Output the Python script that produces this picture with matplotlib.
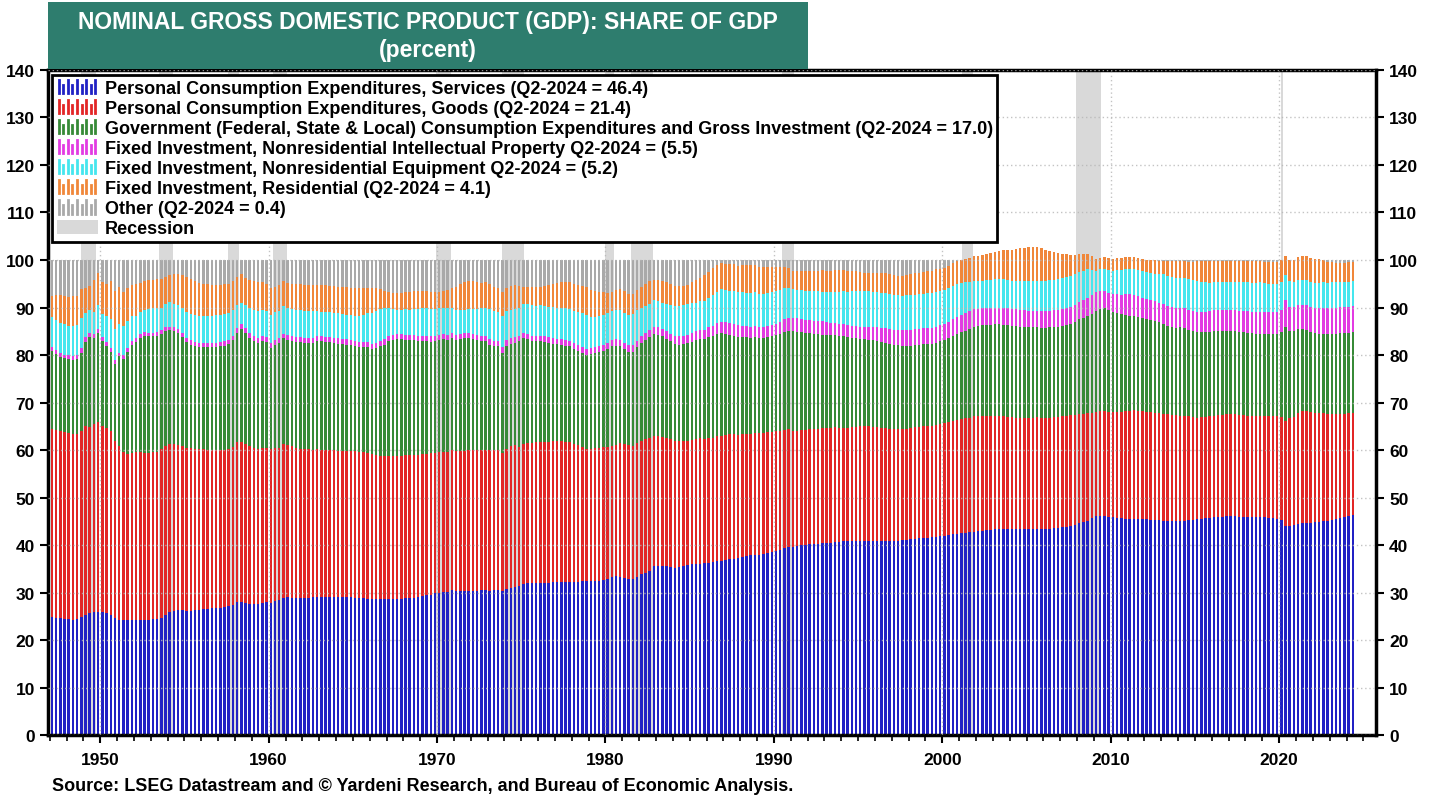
import numpy as np
import pandas as pd
import matplotlib
matplotlib.use("Agg")
import matplotlib.pyplot as plt
from matplotlib import font_manager
from matplotlib.patches import Patch, Rectangle
from matplotlib.lines import Line2D
from matplotlib.legend_handler import HandlerBase
from matplotlib.ticker import MultipleLocator

plt.rcParams["font.family"] = ["Liberation Sans", "DejaVu Sans"]
plt.rcParams["font.weight"] = "bold"

# quarterly shares of nominal GDP (percent), 1947Q1 .. 2024Q2
quarters = pd.period_range("1947Q1", "2024Q2", freq="Q")

services = [
    24.8, 24.7, 24.6, 24.5, 24.4, 24.3, 24.4, 24.8,
    25.3, 25.7, 25.8, 26.0, 25.9, 25.6, 25.2, 24.6,
    24.3, 24.2, 24.2, 24.2, 24.2, 24.3, 24.3, 24.3,
    24.4, 24.5, 24.7, 25.3, 25.8, 26.2, 26.4, 26.3,
    26.2, 26.2, 26.3, 26.4, 26.5, 26.6, 26.7, 26.7,
    26.8, 27.0, 27.1, 27.4, 27.9, 28.0, 27.8, 27.6,
    27.6, 27.5, 27.8, 27.9, 27.8, 28.2, 28.4, 28.8,
    29.0, 28.9, 28.9, 28.8, 28.8, 28.9, 29.0, 29.1,
    29.1, 29.1, 29.1, 29.1, 29.1, 29.1, 29.0, 29.0,
    28.9, 28.8, 28.8, 28.7, 28.6, 28.6, 28.6, 28.6,
    28.6, 28.6, 28.6, 28.7, 28.8, 28.8, 28.9, 29.0,
    29.2, 29.4, 29.5, 29.8, 30.0, 30.1, 30.2, 30.5,
    30.3, 30.3, 30.3, 30.4, 30.4, 30.4, 30.5, 30.5,
    30.4, 30.5, 30.6, 30.3, 30.8, 31.0, 31.2, 31.3,
    31.8, 32.0, 32.0, 32.0, 32.0, 32.0, 32.1, 32.2,
    32.2, 32.2, 32.2, 32.2, 32.2, 32.3, 32.4, 32.5,
    32.5, 32.5, 32.5, 32.6, 32.8, 33.3, 33.4, 33.2,
    33.0, 32.9, 32.8, 33.2, 33.8, 34.2, 34.5, 35.5,
    35.5, 35.5, 35.5, 35.4, 35.2, 35.3, 35.5, 35.7,
    35.9, 36.0, 36.1, 36.2, 36.3, 36.4, 36.6, 36.7,
    36.8, 37.0, 37.1, 37.2, 37.4, 37.6, 37.8, 37.9,
    38.0, 38.1, 38.3, 38.6, 38.8, 39.0, 39.3, 39.5,
    39.6, 39.8, 40.0, 40.1, 40.2, 40.2, 40.3, 40.4,
    40.5, 40.5, 40.6, 40.7, 40.8, 40.9, 40.9, 40.9,
    40.9, 40.9, 40.9, 40.9, 40.9, 40.9, 40.9, 40.9,
    40.9, 40.9, 41.0, 41.1, 41.2, 41.3, 41.4, 41.5,
    41.5, 41.6, 41.7, 41.8, 41.9, 42.1, 42.3, 42.4,
    42.5, 42.6, 42.7, 42.8, 42.9, 43.0, 43.1, 43.2,
    43.3, 43.3, 43.3, 43.3, 43.3, 43.3, 43.3, 43.3,
    43.3, 43.3, 43.3, 43.3, 43.3, 43.4, 43.5, 43.6,
    43.7, 43.8, 44.0, 44.3, 44.6, 44.8, 45.1, 45.6,
    46.1, 46.2, 46.1, 46.0, 45.8, 45.7, 45.6, 45.5,
    45.4, 45.4, 45.4, 45.4, 45.4, 45.3, 45.3, 45.2,
    45.1, 45.1, 45.1, 45.1, 45.1, 45.1, 45.2, 45.3,
    45.4, 45.5, 45.6, 45.7, 45.8, 45.9, 46.0, 46.1,
    46.1, 46.1, 46.0, 45.9, 45.8, 45.8, 45.8, 45.8,
    45.8, 45.7, 45.6, 45.5, 45.2, 44.0, 44.0, 44.2,
    44.4, 44.6, 44.7, 44.7, 44.8, 44.9, 45.0, 45.1,
    45.3, 45.5, 45.7, 45.9, 46.2, 46.4,
]

goods = [
    39.6, 39.5, 39.4, 39.3, 39.2, 39.1, 38.9, 39.2,
    39.7, 39.1, 39.6, 40.0, 39.2, 39.1, 38.8, 37.3,
    36.6, 35.3, 34.9, 35.1, 35.3, 35.2, 35.0, 35.1,
    35.1, 35.1, 35.5, 35.5, 35.4, 35.0, 34.6, 34.5,
    34.3, 34.2, 34.0, 33.8, 33.7, 33.5, 33.3, 33.3,
    33.2, 33.1, 33.2, 33.3, 33.7, 33.7, 33.5, 33.3,
    32.8, 32.7, 32.7, 32.6, 32.4, 32.3, 32.1, 32.4,
    32.0, 31.9, 31.6, 31.5, 31.4, 31.3, 31.1, 31.1,
    30.9, 30.9, 30.8, 30.8, 30.7, 30.7, 30.8, 30.8,
    30.8, 30.8, 30.7, 30.6, 30.5, 30.4, 30.2, 30.2,
    30.2, 30.2, 30.2, 30.1, 30.2, 30.2, 30.1, 30.0,
    29.9, 29.8, 29.8, 29.6, 29.5, 29.5, 29.4, 29.5,
    29.5, 29.5, 29.4, 29.5, 29.6, 29.6, 29.6, 29.6,
    29.6, 29.4, 29.3, 29.1, 29.5, 29.8, 29.9, 29.4,
    29.4, 29.5, 29.5, 29.6, 29.6, 29.6, 29.6, 29.6,
    29.7, 29.6, 29.5, 29.4, 29.1, 28.7, 28.2, 27.7,
    27.7, 27.9, 28.0, 28.0, 27.9, 27.6, 27.7, 28.3,
    28.2, 28.1, 28.1, 28.2, 28.2, 28.1, 28.1, 27.5,
    27.4, 27.3, 27.1, 26.9, 26.8, 26.5, 26.3, 26.3,
    26.3, 26.3, 26.4, 26.2, 26.2, 26.2, 26.3, 26.3,
    26.4, 26.3, 26.3, 26.0, 26.0, 25.8, 25.6, 25.7,
    25.5, 25.5, 25.4, 25.2, 25.1, 25.0, 25.0, 24.9,
    24.5, 24.3, 24.2, 24.1, 24.2, 24.2, 24.2, 24.2,
    24.2, 24.2, 24.2, 24.0, 23.9, 23.8, 23.9, 24.0,
    24.1, 24.2, 24.1, 24.0, 23.9, 23.8, 23.7, 23.6,
    23.5, 23.5, 23.4, 23.4, 23.4, 23.5, 23.5, 23.5,
    23.6, 23.5, 23.5, 23.7, 23.8, 23.8, 23.9, 24.0,
    24.1, 24.2, 24.1, 24.3, 24.2, 24.2, 24.1, 24.0,
    23.9, 23.9, 23.8, 23.7, 23.6, 23.5, 23.5, 23.5,
    23.5, 23.5, 23.6, 23.5, 23.5, 23.4, 23.4, 23.4,
    23.4, 23.4, 23.3, 23.1, 23.0, 22.8, 22.6, 22.2,
    21.8, 22.0, 22.2, 22.1, 22.1, 22.2, 22.4, 22.7,
    22.9, 23.0, 22.9, 22.8, 22.6, 22.6, 22.5, 22.5,
    22.5, 22.4, 22.3, 22.2, 22.1, 22.1, 21.9, 21.7,
    21.4, 21.4, 21.4, 21.4, 21.4, 21.4, 21.4, 21.4,
    21.5, 21.4, 21.4, 21.4, 21.4, 21.4, 21.4, 21.4,
    21.3, 21.5, 21.5, 21.6, 21.8, 22.1, 22.8, 22.8,
    23.4, 23.7, 23.5, 23.2, 23.0, 22.9, 22.7, 22.5,
    22.3, 22.1, 21.9, 21.7, 21.5, 21.4,
]

government = [
    16.4, 16.0, 15.6, 15.5, 15.5, 15.6, 15.9, 16.5,
    17.8, 18.9, 18.1, 18.6, 17.8, 17.1, 16.6, 16.3,
    18.8, 19.7, 21.6, 22.9, 23.2, 24.1, 24.7, 24.5,
    24.4, 24.5, 24.2, 24.2, 24.0, 23.8, 23.7, 23.0,
    22.2, 21.8, 21.6, 21.5, 21.4, 21.5, 21.6, 21.7,
    21.8, 21.9, 22.0, 22.5, 23.0, 23.8, 23.3, 22.7,
    22.6, 22.4, 22.4, 22.2, 21.3, 21.7, 22.0, 22.3,
    22.2, 22.2, 22.3, 22.4, 22.3, 22.3, 22.4, 22.7,
    23.0, 22.8, 22.8, 22.7, 22.6, 22.5, 22.4, 22.3,
    22.2, 22.1, 22.1, 22.3, 22.1, 22.4, 23.0, 23.4,
    24.1, 24.4, 24.5, 24.5, 24.2, 24.1, 24.2, 24.0,
    23.8, 23.7, 23.5, 23.5, 23.7, 23.7, 23.6, 23.6,
    23.4, 23.6, 23.8, 23.6, 23.4, 23.2, 22.9, 22.8,
    22.2, 22.0, 21.9, 21.1, 21.7, 21.6, 21.5, 22.3,
    22.3, 21.9, 21.5, 21.4, 21.3, 21.2, 20.9, 20.6,
    20.4, 20.4, 20.3, 20.2, 20.0, 19.9, 19.9, 19.9,
    20.0, 20.0, 20.1, 20.3, 20.5, 20.9, 20.9, 20.4,
    20.0, 19.7, 19.8, 20.2, 20.5, 20.8, 21.1, 21.5,
    21.3, 21.1, 20.8, 20.6, 20.3, 20.4, 20.5, 20.6,
    20.6, 20.8, 20.8, 21.0, 21.2, 21.4, 21.5, 21.6,
    21.3, 20.9, 20.6, 20.6, 20.4, 20.3, 20.2, 20.1,
    20.0, 20.0, 20.0, 20.2, 20.3, 20.4, 20.6, 20.7,
    20.9, 20.8, 20.6, 20.4, 20.2, 20.0, 19.9, 19.7,
    19.6, 19.5, 19.4, 19.3, 19.2, 19.0, 18.8, 18.6,
    18.4, 18.3, 18.2, 18.2, 18.2, 18.1, 18.0, 17.9,
    17.8, 17.7, 17.6, 17.5, 17.4, 17.3, 17.3, 17.3,
    17.3, 17.3, 17.4, 17.5, 17.5, 17.6, 17.8, 18.0,
    18.2, 18.3, 18.6, 18.8, 19.0, 19.1, 19.1, 19.2,
    19.3, 19.3, 19.3, 19.3, 19.3, 19.3, 19.2, 19.1,
    19.0, 19.0, 18.9, 18.9, 18.9, 19.0, 19.0, 19.0,
    19.1, 19.1, 19.3, 19.6, 20.0, 20.2, 20.5, 20.9,
    21.4, 21.5, 21.5, 21.3, 21.1, 20.9, 20.6, 20.3,
    20.0, 19.8, 19.7, 19.6, 19.6, 19.5, 19.4, 19.3,
    18.9, 18.7, 18.5, 18.4, 18.6, 18.4, 18.2, 18.1,
    18.0, 17.9, 17.9, 17.8, 17.9, 17.8, 17.7, 17.6,
    17.5, 17.5, 17.5, 17.5, 17.5, 17.4, 17.3, 17.3,
    17.3, 17.2, 17.3, 17.3, 17.8, 19.9, 18.3, 18.0,
    17.6, 17.1, 17.1, 17.0, 16.8, 16.7, 16.8, 16.8,
    16.9, 16.9, 17.0, 17.0, 17.0, 17.0,
]

intellectual_property = [
    0.8, 0.8, 0.8, 0.8, 0.8, 0.8, 0.8, 0.9,
    0.9, 0.9, 0.9, 0.9, 0.9, 0.9, 0.9, 0.8,
    0.8, 0.8, 0.8, 0.8, 0.8, 0.8, 0.8, 0.8,
    0.8, 0.8, 0.8, 0.8, 0.8, 0.8, 0.8, 0.8,
    0.8, 0.9, 0.9, 0.9, 0.9, 0.9, 0.9, 0.9,
    0.9, 0.9, 0.9, 0.9, 1.0, 1.0, 1.0, 1.0,
    1.0, 1.0, 1.0, 1.0, 1.0, 1.0, 1.0, 1.0,
    1.0, 1.0, 1.0, 1.0, 1.0, 1.0, 1.0, 1.0,
    1.0, 1.0, 1.0, 1.0, 1.1, 1.1, 1.1, 1.1,
    1.1, 1.1, 1.1, 1.1, 1.1, 1.1, 1.1, 1.1,
    1.1, 1.1, 1.1, 1.1, 1.1, 1.1, 1.1, 1.1,
    1.1, 1.1, 1.1, 1.1, 1.1, 1.1, 1.1, 1.1,
    1.1, 1.1, 1.1, 1.1, 1.1, 1.1, 1.1, 1.1,
    1.1, 1.1, 1.1, 1.1, 1.1, 1.1, 1.1, 1.1,
    1.1, 1.1, 1.1, 1.1, 1.1, 1.1, 1.1, 1.1,
    1.1, 1.1, 1.1, 1.1, 1.2, 1.2, 1.2, 1.2,
    1.3, 1.3, 1.3, 1.3, 1.3, 1.3, 1.3, 1.3,
    1.4, 1.4, 1.4, 1.4, 1.5, 1.5, 1.5, 1.5,
    1.6, 1.6, 1.6, 1.6, 1.7, 1.7, 1.7, 1.7,
    1.9, 1.9, 1.9, 1.9, 2.1, 2.2, 2.3, 2.4,
    2.5, 2.5, 2.5, 2.5, 2.4, 2.4, 2.4, 2.4,
    2.4, 2.4, 2.4, 2.4, 2.4, 2.5, 2.6, 2.7,
    2.8, 2.8, 2.8, 2.8, 2.8, 2.8, 2.8, 2.8,
    2.6, 2.6, 2.6, 2.6, 2.6, 2.6, 2.6, 2.6,
    2.5, 2.5, 2.6, 2.7, 2.8, 2.9, 3.0, 3.0,
    3.1, 3.2, 3.2, 3.3, 3.3, 3.3, 3.3, 3.3,
    3.3, 3.3, 3.3, 3.3, 3.3, 3.4, 3.5, 3.6,
    3.7, 3.8, 3.8, 3.7, 3.6, 3.5, 3.5, 3.5,
    3.5, 3.5, 3.5, 3.5, 3.5, 3.5, 3.5, 3.5,
    3.5, 3.5, 3.5, 3.5, 3.5, 3.5, 3.5, 3.5,
    3.5, 3.6, 3.6, 3.6, 3.6, 3.7, 3.8, 3.9,
    3.9, 3.8, 3.7, 3.7, 3.9, 4.0, 4.1, 4.3,
    4.5, 4.4, 4.4, 4.3, 4.2, 4.2, 4.1, 4.0,
    4.2, 4.2, 4.2, 4.2, 4.2, 4.2, 4.2, 4.2,
    4.2, 4.2, 4.2, 4.3, 4.3, 4.3, 4.4, 4.4,
    4.4, 4.4, 4.4, 4.4, 4.5, 4.5, 4.6, 4.6,
    4.6, 4.6, 4.6, 4.6, 4.7, 5.5, 5.1, 5.1,
    5.2, 5.2, 5.3, 5.3, 5.3, 5.4, 5.5, 5.5,
    5.5, 5.5, 5.5, 5.5, 5.5, 5.5,
]

equipment = [
    6.4, 6.4, 6.4, 6.4, 6.3, 6.4, 6.3, 6.4,
    5.2, 4.8, 4.6, 5.1, 4.8, 5.5, 6.1, 6.5,
    6.1, 6.1, 5.7, 5.3, 4.7, 4.6, 4.7, 4.9,
    5.1, 5.0, 4.8, 4.9, 5.2, 5.0, 5.0, 5.2,
    5.5, 5.6, 5.7, 5.7, 5.7, 5.7, 5.7, 5.8,
    5.8, 5.7, 5.6, 5.4, 4.9, 4.5, 4.9, 5.4,
    5.5, 5.7, 5.6, 5.6, 6.0, 5.8, 5.7, 5.8,
    5.6, 5.6, 5.7, 5.7, 5.7, 5.8, 5.8, 5.3,
    5.0, 5.2, 5.3, 5.3, 5.3, 5.3, 5.2, 5.3,
    5.3, 5.5, 5.8, 6.1, 6.5, 6.7, 6.7, 6.7,
    5.9, 5.4, 5.1, 5.1, 5.3, 5.3, 5.4, 5.6,
    5.8, 5.8, 5.8, 5.7, 5.6, 5.4, 5.5, 5.3,
    5.1, 5.0, 4.9, 5.0, 5.1, 5.4, 5.7, 5.9,
    6.3, 6.3, 6.2, 6.6, 6.1, 6.0, 5.9, 5.8,
    6.2, 6.2, 6.4, 6.3, 6.5, 6.5, 6.5, 6.6,
    6.6, 6.6, 6.7, 6.7, 6.8, 6.9, 7.1, 7.2,
    6.4, 6.3, 6.3, 6.3, 6.3, 6.1, 6.2, 6.2,
    6.3, 6.4, 6.5, 6.4, 5.9, 5.7, 5.6, 5.5,
    5.5, 5.5, 5.8, 6.0, 6.3, 6.4, 6.5, 6.5,
    6.2, 6.0, 6.1, 6.1, 6.2, 6.5, 6.6, 6.8,
    6.7, 6.8, 6.9, 6.9, 7.0, 7.0, 7.1, 7.1,
    7.0, 6.9, 6.9, 6.8, 6.8, 6.7, 6.6, 6.4,
    6.1, 6.0, 6.0, 6.1, 6.1, 6.2, 6.2, 6.2,
    6.3, 6.4, 6.5, 6.7, 7.0, 7.0, 7.2, 7.4,
    7.6, 7.6, 7.6, 7.5, 7.4, 7.4, 7.4, 7.4,
    7.4, 7.3, 7.3, 7.3, 7.3, 7.3, 7.3, 7.3,
    7.3, 7.4, 7.4, 7.2, 7.2, 7.2, 7.1, 6.9,
    6.7, 6.4, 6.2, 6.0, 5.8, 5.8, 5.9, 5.9,
    5.9, 6.0, 6.0, 6.0, 5.9, 5.9, 6.1, 6.2,
    6.3, 6.3, 6.3, 6.4, 6.4, 6.4, 6.4, 6.5,
    6.5, 6.5, 6.5, 6.4, 6.3, 6.2, 6.0, 5.3,
    4.5, 4.5, 4.6, 4.8, 4.8, 5.0, 5.2, 5.3,
    5.3, 5.4, 5.4, 5.5, 5.6, 5.6, 5.8, 6.0,
    6.3, 6.3, 6.3, 6.4, 6.3, 6.4, 6.4, 6.4,
    6.6, 6.4, 6.2, 6.0, 5.9, 5.9, 5.9, 5.9,
    5.9, 6.0, 6.0, 6.1, 6.1, 6.1, 6.1, 6.2,
    6.1, 6.0, 6.0, 5.9, 5.8, 5.3, 5.3, 5.2,
    5.1, 5.1, 5.1, 5.1, 5.2, 5.3, 5.3, 5.3,
    5.3, 5.3, 5.2, 5.2, 5.2, 5.2,
]

residential = [
    4.5, 5.2, 5.8, 6.0, 6.1, 6.2, 6.2, 6.0,
    5.3, 5.2, 6.8, 6.7, 6.7, 6.8, 7.9, 8.0,
    7.8, 7.1, 6.8, 6.5, 6.8, 6.2, 6.0, 6.2,
    6.0, 6.0, 6.0, 5.8, 5.6, 6.2, 6.5, 7.0,
    7.5, 7.3, 7.0, 6.9, 6.8, 6.7, 6.6, 6.4,
    6.3, 6.3, 6.2, 6.1, 6.0, 6.0, 5.7, 5.8,
    6.0, 6.0, 5.9, 5.7, 5.5, 5.4, 5.5, 5.2,
    5.3, 5.4, 5.5, 5.5, 5.5, 5.5, 5.5, 5.6,
    5.7, 5.7, 5.6, 5.6, 5.6, 5.7, 5.8, 5.7,
    5.7, 5.7, 5.6, 5.4, 5.4, 5.0, 4.2, 3.5,
    3.4, 3.4, 3.5, 3.6, 3.6, 3.8, 3.7, 3.7,
    3.7, 3.6, 3.6, 3.5, 3.4, 3.6, 3.8, 4.0,
    4.9, 5.5, 5.9, 6.0, 6.0, 5.7, 5.4, 5.4,
    5.4, 5.1, 4.9, 5.1, 4.8, 5.0, 5.2, 4.6,
    3.5, 3.6, 3.8, 4.0, 3.9, 4.1, 4.5, 4.9,
    5.2, 5.4, 5.5, 5.7, 5.7, 5.8, 5.8, 5.8,
    5.7, 5.4, 5.1, 4.7, 4.2, 4.0, 4.1, 4.4,
    4.5, 4.3, 4.3, 4.2, 4.5, 4.7, 4.7, 4.3,
    4.5, 4.6, 4.5, 4.5, 4.3, 4.2, 4.0, 4.0,
    4.4, 4.8, 5.0, 5.4, 5.5, 5.6, 5.7, 5.5,
    5.5, 5.6, 5.7, 5.6, 5.7, 5.8, 5.8, 5.7,
    5.6, 5.6, 5.5, 5.3, 5.2, 4.9, 4.4, 4.1,
    3.8, 3.9, 4.0, 4.1, 4.2, 4.3, 4.3, 4.5,
    4.5, 4.5, 4.5, 4.5, 4.4, 4.3, 4.2, 4.1,
    3.9, 3.8, 3.9, 4.0, 4.1, 4.2, 4.2, 4.2,
    4.1, 4.1, 4.2, 4.3, 4.4, 4.5, 4.5, 4.6,
    4.6, 4.6, 4.7, 4.7, 4.7, 4.7, 4.7, 4.8,
    4.9, 4.9, 5.0, 5.2, 5.4, 5.5, 5.6, 5.7,
    5.8, 5.9, 6.2, 6.4, 6.6, 6.8, 6.9, 7.0,
    7.1, 7.2, 7.2, 7.0, 6.6, 6.2, 5.8, 5.5,
    5.1, 4.8, 4.4, 4.0, 3.7, 3.5, 3.2, 2.9,
    2.5, 2.5, 2.5, 2.5, 2.6, 2.6, 2.6, 2.6,
    2.6, 2.6, 2.6, 2.6, 2.7, 2.7, 2.8, 2.8,
    2.8, 3.0, 3.3, 3.4, 3.4, 3.5, 3.7, 3.9,
    4.1, 4.3, 4.4, 4.5, 4.5, 4.5, 4.4, 4.4,
    4.4, 4.4, 4.4, 4.4, 4.4, 4.5, 4.5, 4.4,
    4.5, 4.6, 4.6, 4.7, 4.6, 4.1, 4.4, 4.7,
    4.9, 5.1, 5.2, 5.1, 5.2, 5.0, 4.6, 4.4,
    4.2, 4.1, 4.1, 4.1, 4.1, 4.1,
]

other = [
    7.5, 7.4, 7.4, 7.5, 7.7, 7.6, 7.5, 6.2,
    5.8, 5.4, 4.2, 2.7, 4.7, 5.0, 4.5, 6.5,
    5.6, 6.8, 6.0, 5.2, 5.0, 4.8, 4.5, 4.2,
    4.2, 4.1, 4.0, 3.5, 3.2, 3.0, 3.0, 3.2,
    3.5, 4.0, 4.5, 4.8, 5.0, 5.1, 5.2, 5.2,
    5.2, 5.1, 5.0, 4.4, 3.5, 3.0, 3.8, 4.2,
    4.5, 4.7, 4.6, 5.0, 6.0, 5.6, 5.3, 4.5,
    4.9, 5.0, 5.0, 5.1, 5.3, 5.2, 5.2, 5.2,
    5.3, 5.3, 5.4, 5.5, 5.6, 5.6, 5.7, 5.8,
    6.0, 6.0, 5.9, 5.8, 5.8, 5.8, 6.2, 6.5,
    6.7, 6.9, 7.0, 6.9, 6.8, 6.7, 6.6, 6.6,
    6.5, 6.6, 6.7, 6.8, 6.7, 6.6, 6.4, 6.0,
    5.7, 5.0, 4.6, 4.4, 4.4, 4.6, 4.8, 4.7,
    5.0, 5.6, 6.0, 6.7, 6.0, 5.5, 5.2, 5.5,
    5.7, 5.7, 5.7, 5.6, 5.6, 5.5, 5.3, 5.0,
    4.8, 4.7, 4.7, 4.7, 5.0, 5.2, 5.4, 5.7,
    6.4, 6.6, 6.7, 6.8, 7.0, 6.8, 6.4, 6.2,
    6.6, 7.2, 7.1, 6.4, 5.6, 5.0, 4.5, 4.2,
    4.2, 4.4, 4.7, 5.0, 5.4, 5.5, 5.5, 5.2,
    4.7, 4.2, 3.7, 3.2, 2.5, 1.7, 1.0, 0.7,
    0.8, 0.9, 0.9, 1.2, 1.1, 1.1, 1.1, 1.1,
    1.5, 1.5, 1.5, 1.5, 1.4, 1.5, 1.5, 1.7,
    2.3, 2.4, 2.4, 2.4, 2.3, 2.3, 2.3, 2.2,
    2.3, 2.3, 2.2, 2.2, 2.1, 2.4, 2.4, 2.4,
    2.6, 2.7, 2.7, 2.7, 2.7, 2.7, 2.8, 3.0,
    3.2, 3.3, 3.3, 3.1, 3.0, 2.8, 2.7, 2.5,
    2.4, 2.3, 2.0, 1.8, 1.6, 1.2, 0.7, 0.3,
    -0.1, -0.2, -0.4, -0.8, -0.9, -1.1, -1.3, -1.5,
    -1.7, -1.9, -2.1, -2.2, -2.2, -2.3, -2.5, -2.6,
    -2.7, -2.8, -2.8, -2.6, -2.2, -1.9, -1.6, -1.5,
    -1.3, -1.2, -1.1, -1.0, -1.2, -1.2, -1.2, -0.8,
    -0.2, -0.5, -0.6, -0.4, -0.3, -0.4, -0.5, -0.7,
    -0.7, -0.6, -0.4, -0.2, -0.1, 0.1, 0.1, 0.2,
    0.2, 0.3, 0.3, 0.3, 0.3, 0.3, 0.4, 0.4,
    0.3, 0.3, 0.3, 0.3, 0.2, 0.2, 0.2, 0.2,
    0.2, 0.2, 0.3, 0.3, 0.3, 0.3, 0.3, 0.3,
    0.4, 0.4, 0.4, 0.4, 0.1, -0.9, 0.1, 0.0,
    -0.6, -0.8, -0.9, -0.4, -0.3, -0.2, 0.1, 0.4,
    0.5, 0.6, 0.6, 0.6, 0.5, 0.4,
]

# NBER recessions (decimal years)
rec_start = [1948.83, 1953.50, 1957.58, 1960.25, 1969.92, 1973.83,
             1980.00, 1981.50, 1990.50, 2001.17, 2007.92, 2020.08]
rec_end = [1949.75, 1954.33, 1958.25, 1961.08, 1970.83, 1975.17,
           1980.50, 1982.83, 1991.17, 2001.83, 2009.42, 2020.25]

labels = [
    "Personal Consumption Expenditures, Services (Q2-2024 = 46.4)",
    "Personal Consumption Expenditures, Goods (Q2-2024 = 21.4)",
    "Government (Federal, State & Local) Consumption Expenditures and Gross Investment (Q2-2024 = 17.0)",
    "Fixed Investment, Nonresidential Intellectual Property Q2-2024 = (5.5)",
    "Fixed Investment, Nonresidential Equipment Q2-2024 = (5.2)",
    "Fixed Investment, Residential (Q2-2024 = 4.1)",
    "Other (Q2-2024 = 0.4)",
]
colors = ["#2121c4", "#e22626", "#378a37", "#e23be2", "#45e6ee", "#f0873a", "#a9a9a9"]
series = [services, goods, government, intellectual_property, equipment, residential, other]


class StripeHandler(HandlerBase):
    # legend key drawn as a little row of thin bars
    def create_artists(self, legend, orig_handle, xdescent, ydescent,
                       width, height, fontsize, trans):
        col = orig_handle.get_facecolor()
        arts = []
        n = 9
        for i in range(n):
            xx = -xdescent + width * (i + 0.5) / n
            top = height * (1.0 if i % 2 == 0 else 0.62)
            arts.append(Line2D([xx, xx], [-ydescent, -ydescent + top],
                               color=col, lw=2.0, transform=trans))
        return arts


fig = plt.figure(figsize=(14.38, 8.03), dpi=100)
ax = fig.add_axes([0.0334, 0.0834, 0.9235, 0.8282])

x = np.array([q.year + (q.quarter - 1) / 4 + 0.125 for q in quarters])

for s, e in zip(rec_start, rec_end):
    ax.axvspan(s, e, color="#d9d9d9", lw=0, zorder=0.5)

bottom = np.zeros(len(x))
for vals, col in zip(series, colors):
    h = np.clip(np.array(vals), 0, None)
    ax.bar(x, h, width=0.15, bottom=bottom, color=col, linewidth=0, zorder=1)
    bottom = bottom + h

ax.set_xlim(1946.9, 2025.75)
ax.set_ylim(0, 140)
ax.yaxis.set_major_locator(MultipleLocator(10))
ax.xaxis.set_major_locator(MultipleLocator(10))
ax.xaxis.set_minor_locator(MultipleLocator(1))

ax.set_axisbelow(False)
ax.yaxis.grid(True, color="#b5b5b5", linestyle=(0, (1, 2)), linewidth=1.0, alpha=0.8)
ax.xaxis.grid(True, which="major", color="#b5b5b5", linestyle=(0, (1, 2)), linewidth=1.0, alpha=0.8)

ax.tick_params(axis="both", which="major", labelsize=12.5, width=1.5, length=6,
               direction="out", colors="black")
ax.tick_params(axis="x", which="minor", length=4, width=1.2)
ax.tick_params(axis="y", right=True, labelright=True)
ax.tick_params(axis="x", pad=6)

for sp in ax.spines.values():
    sp.set_linewidth(2.5)
    sp.set_color("black")

handles = [Patch(facecolor=c) for c in colors]
rec_handle = Patch(facecolor="#d9d9d9", edgecolor="none")
hmap = {h: StripeHandler() for h in handles}
leg = ax.legend(handles + [rec_handle], labels + ["Recession"], handler_map=hmap,
                loc="upper left", bbox_to_anchor=(0.003, 0.992), borderaxespad=0,
                frameon=True, fancybox=False, edgecolor="black", framealpha=1,
                prop={"size": 13, "weight": "bold"}, labelspacing=0.17,
                handlelength=2.27, handleheight=0.75, handletextpad=0.4,
                borderpad=0.25)
leg.get_frame().set_linewidth(2)
leg.set_zorder(5)

# title banner
fig.add_artist(Rectangle((0.0334, 0.9128), 0.5285, 0.0834, transform=fig.transFigure,
                         facecolor="#2e7d6e", edgecolor="none"))
installed = {f.name for f in font_manager.fontManager.ttflist}
if "Liberation Sans Narrow" in installed:
    tfont, tsize = ["Liberation Sans Narrow", "DejaVu Sans"], 19
else:
    tfont, tsize = ["Liberation Sans", "DejaVu Sans"], 16.5
fig.text(0.2976, 0.9726, "NOMINAL GROSS DOMESTIC PRODUCT (GDP): SHARE OF GDP",
         color="white", fontsize=tsize, fontweight="bold", family=tfont,
         ha="center", va="center")
fig.text(0.2976, 0.9365, "(percent)", color="white", fontsize=tsize, fontweight="bold",
         family=tfont, ha="center", va="center")

fig.text(0.0362, 0.021, "Source: LSEG Datastream and \u00a9 Yardeni Research, and Bureau of Economic Analysis.",
         fontsize=13, fontweight="bold", ha="left", va="center")

fig.savefig("out.png", dpi=100)
